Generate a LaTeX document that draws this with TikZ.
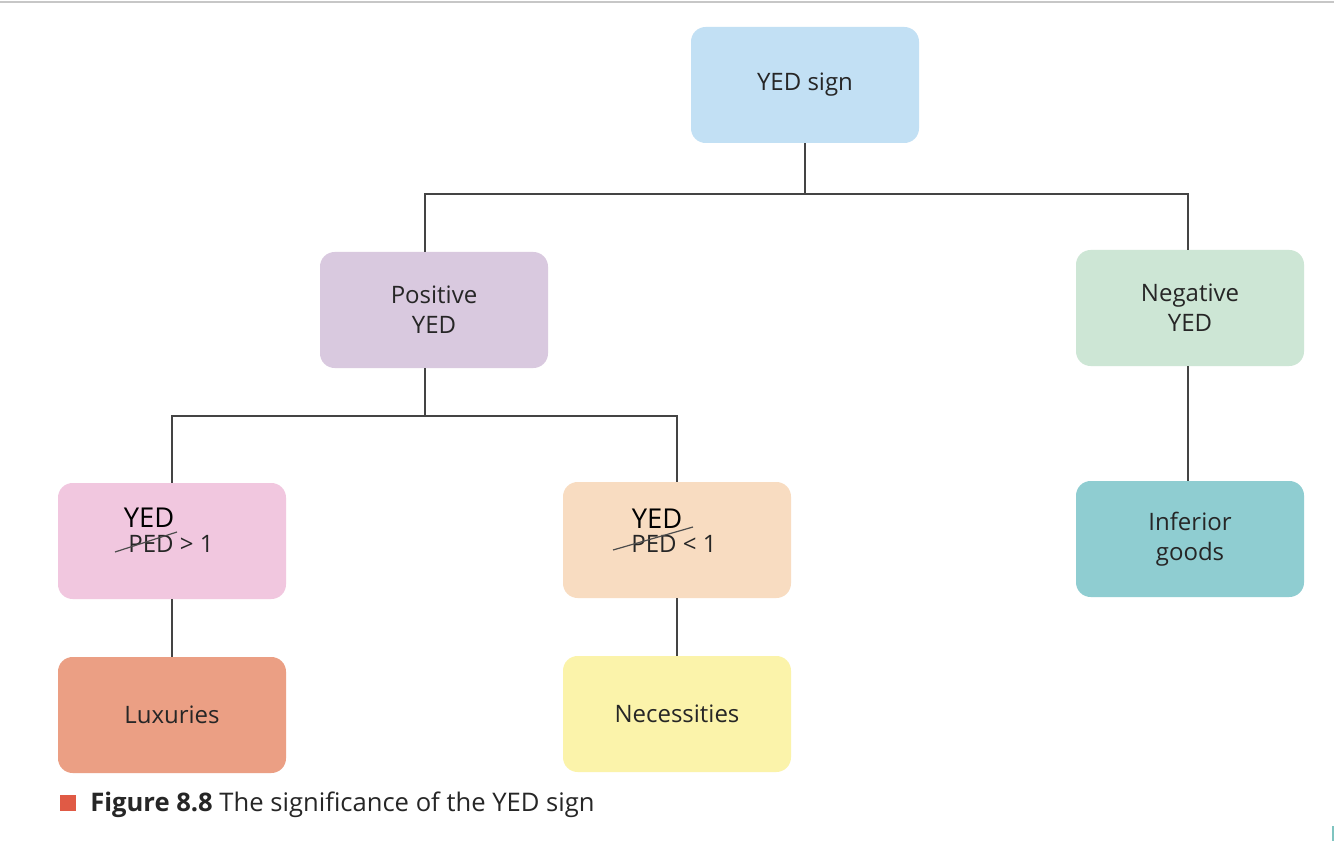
\documentclass[tikz,border=0pt]{standalone}
\usepackage{fontspec}
\setmainfont{Open Sans}
\usetikzlibrary{calc}
\definecolor{cTop}{HTML}{C2E0F4}
\definecolor{cPos}{HTML}{D9C9DF}
\definecolor{cNeg}{HTML}{CDE6D5}
\definecolor{cLux1}{HTML}{F1C7DF}
\definecolor{cNec1}{HTML}{F8DCC1}
\definecolor{cInf}{HTML}{8FCDD1}
\definecolor{cLux}{HTML}{EB9F84}
\definecolor{cNec}{HTML}{FBF3AA}
\definecolor{cRed}{HTML}{E05A45}
\definecolor{cLine}{HTML}{444444}
\definecolor{cTeal}{HTML}{7FC4C0}
\tikzset{
  box/.style={rounded corners=11pt, minimum width=171pt, minimum height=87pt, inner sep=0pt,
    align=center, font=\fontsize{18}{22.5}\selectfont, text=black!85},
  link/.style={draw=cLine, line width=1.3pt},
  strike/.style={draw=black!70, line width=0.9pt},
  bigtxt/.style={font=\fontsize{20.5}{24}\selectfont, inner sep=0pt, anchor=base},
  midtxt/.style={font=\fontsize{18}{22}\selectfont, inner sep=0pt, anchor=base, text=black!85}
}
\begin{document}
\begin{tikzpicture}[x=0.75pt,y=-0.75pt]
\useasboundingbox (0,0) rectangle (1334,841);
\fill[white] (0,0) rectangle (1334,841);
\draw[draw=black!22, line width=1.5pt] (0,2) -- (1334,2);

\node[box, fill=cTop] (top) at (805,85) {\raisebox{-3pt}{YED sign}};
\node[box, fill=cPos] (pos) at (434,310) {Positive\\YED};
\node[box, fill=cNeg] (neg) at (1190,308) {Negative\\YED};
\node[box, fill=cLux1] (gt) at (172,541) {};
\node[box, fill=cNec1] (lt) at (677,540) {};
\node[box, fill=cInf] (inf) at (1190,539) {Inferior\\goods};
\node[box, fill=cLux] (lux) at (172,715) {\raisebox{-2pt}{Luxuries}};
\node[box, fill=cNec] (nec) at (677,714) {\raisebox{-1.5pt}{Necessities}};

% texts in the PED boxes
\node[bigtxt] (gtY) at (149,527) {YED};
\node[midtxt] (gtP) at (171,552) {PED > 1};
\draw[strike] (115,552) -- (177,532);
\node[bigtxt] (ltY) at (657,528) {YED};
\node[midtxt] (ltP) at (674,552) {PED < 1};
\draw[strike] (613,550) -- (693,527);

% connectors
\coordinate (j1) at (805,194);
\coordinate (j2) at (425,416);
\draw[link] (top.south) -- (j1);
\draw[link] ([xshift=-6.75pt]pos.north) |- (j1) -| ([xshift=-1.5pt]neg.north);
\draw[link] ([xshift=-6.75pt]pos.south) -- (j2);
\draw[link] (gt.north) |- (j2) -| (lt.north);
\draw[link] ([xshift=-1.5pt]neg.south) -- ([xshift=-1.5pt]inf.north);
\draw[link] (gt.south) -- (lux.north);
\draw[link] (lt.south) -- (nec.north);

% caption
\fill[cRed] (60,795) rectangle (76,811) coordinate (sq);
\node[anchor=base west, inner sep=0pt, font=\fontsize{19.2}{23}\selectfont, text=black!85] (cap) at (90,811)
  {\textbf{Figure 8.8} The significance of the YED sign};

\fill[cTeal] (1331.5,826) rectangle (1334,841);
\end{tikzpicture}
\end{document}
